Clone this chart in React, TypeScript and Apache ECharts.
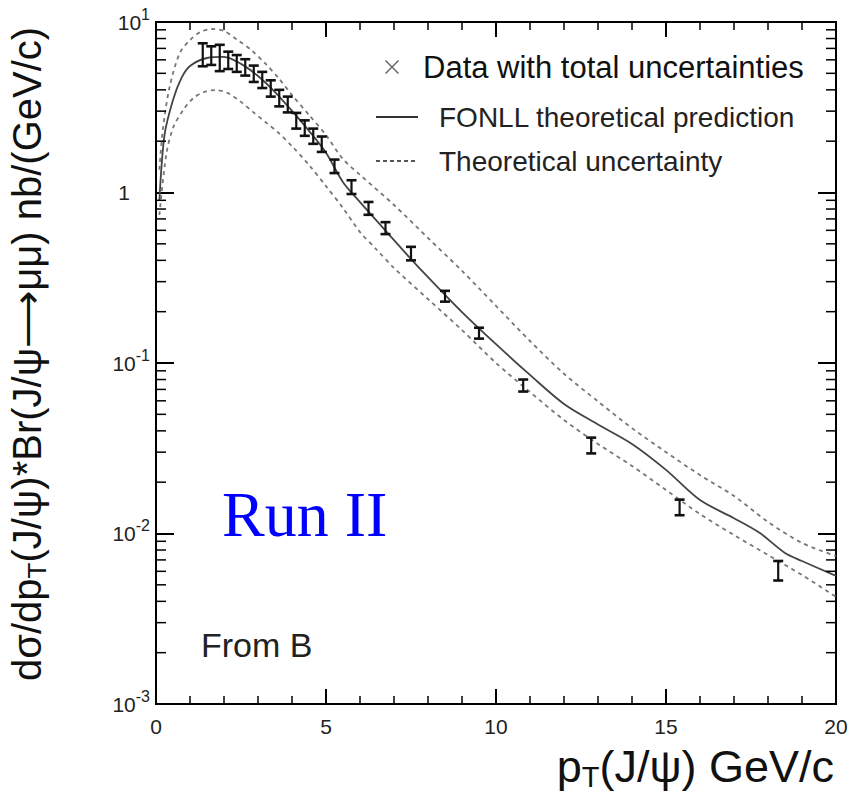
import React, { useEffect, useRef } from "react";
import * as echarts from "echarts";

const SANS = '"Liberation Sans", Arial, sans-serif';
const SERIF = '"Liberation Serif", "Times New Roman", serif';

// Measured data: pT bin centres (GeV/c), cross section (nb/(GeV/c)), total uncertainty
const dataPt = [1.375, 1.625, 1.875, 2.125, 2.375, 2.625, 2.875, 3.125, 3.375, 3.625, 3.875, 4.125, 4.375, 4.625, 4.875, 5.25, 5.75, 6.25, 6.75, 7.5, 8.5, 9.5, 10.8, 12.8, 15.4, 18.3];
const dataXsec = [6.5, 6.4, 6.25, 6.0, 5.75, 5.45, 5.0, 4.6, 4.1, 3.6, 3.3, 2.65, 2.4, 2.15, 1.93, 1.43, 1.08, 0.81, 0.62, 0.44, 0.247, 0.15, 0.074, 0.033, 0.0143, 0.0061];
const dataErr = [1.0, 0.8, 1.1, 0.7, 0.65, 0.6, 0.55, 0.5, 0.45, 0.4, 0.35, 0.28, 0.25, 0.22, 0.2, 0.13, 0.1, 0.07, 0.05, 0.04, 0.018, 0.011, 0.006, 0.0035, 0.0015, 0.0008];

// FONLL central prediction
const fonllPt = [0.1, 0.25, 0.5, 0.75, 1, 1.5, 2, 2.5, 3, 3.5, 4, 4.5, 5, 5.5, 6, 6.5, 7, 7.5, 8, 9, 10, 11, 12, 13, 14, 15, 16, 17, 17.75, 18.5, 19, 20];
const fonllXsec = [0.9, 2.17, 3.49, 4.7, 5.52, 6.15, 6.24, 5.68, 4.82, 3.88, 3.01, 2.3, 1.71, 1.15, 0.879, 0.68, 0.526, 0.407, 0.319, 0.199, 0.129, 0.0851, 0.0575, 0.0436, 0.0335, 0.0236, 0.0157, 0.0123, 0.0101, 0.00769, 0.0069, 0.00564];

// Theoretical uncertainty band, upper edge
const upperPt = [0.1, 0.2, 0.4, 0.7, 1, 1.3, 1.65, 2, 2.4, 2.8, 3.2, 3.6, 4, 4.5, 5, 5.5, 6, 7, 8, 9, 10, 11, 12, 13, 14, 15, 16, 17, 18, 19, 20];
const upperXsec = [1.36, 2.33, 4.16, 6.58, 7.83, 8.73, 9.1, 8.85, 7.84, 6.85, 5.75, 4.7, 3.73, 2.85, 2.17, 1.57, 1.27, 0.845, 0.541, 0.347, 0.216, 0.1346, 0.0865, 0.0595, 0.0415, 0.0300, 0.0220, 0.0166, 0.0117, 0.0088, 0.00738];

// Theoretical uncertainty band, lower edge
const lowerPt = [0.1, 0.3, 0.5, 0.8, 1.1, 1.4, 1.75, 2.1, 2.5, 2.85, 3.25, 3.6, 4, 4.5, 5, 5.5, 6, 6.5, 7, 8, 9, 10, 11, 12, 13, 14, 15, 16, 17, 18, 19, 20];
const lowerXsec = [0.738, 1.66, 2.39, 3.05, 3.58, 3.88, 3.99, 3.84, 3.4, 2.97, 2.56, 2.24, 1.87, 1.45, 1.09, 0.811, 0.586, 0.46, 0.361, 0.237, 0.156, 0.1, 0.0676, 0.0463, 0.0335, 0.0249, 0.018, 0.013, 0.00979, 0.00748, 0.00571, 0.00425];

// Axis settings
const xMin = 0;
const xMax = 20;
const xInterval = 5;
const yMin = 0.001;
const yMax = 10;
const yMinorMantissas = [2, 3, 4, 5, 6, 7, 8, 9];
const yDecades = [-3, -2, -1, 0];

const legendData = "Data with total uncertainties";
const legendFonll = "FONLL theoretical prediction";
const legendBand = "Theoretical uncertainty";

function textWidth(text: string, size: number, family: string): number {
  const c = document.createElement("canvas").getContext("2d");
  if (!c) return text.length * size * 0.55;
  c.font = `${size}px ${family}`;
  return c.measureText(text).width;
}

function mkText(text: string, x: number, y: number, size: number, color: string, family = SANS) {
  return {
    type: "text",
    x,
    y,
    silent: true,
    style: {
      text,
      fontSize: size,
      fontFamily: family,
      fill: color,
      align: "left",
      textAlign: "left",
      verticalAlign: "middle",
      textVerticalAlign: "middle",
    },
  };
}

function pieces(parts: { t: string; fs: number; dy: number }[], x0: number, y0: number, color: string) {
  const out: any[] = [];
  let x = x0;
  for (const p of parts) {
    out.push(mkText(p.t, x, y0 + p.dy, p.fs, color));
    x += textWidth(p.t, p.fs, SANS);
  }
  return { out, width: x - x0 };
}

const crossIcon =
  "path://M9,2 L10,1 L16,7 L22,1 L23,2 L17,8 L23,14 L22,15 L16,9 L10,15 L9,14 L15,8 Z M0,0 L0.01,0 L0,0.01 Z M42,16 L41.99,16 L42,15.99 Z";
const solidIcon = "path://M0,0 L42,0 L42,2 L0,2 Z";
const dashIcon =
  "path://M0,0h4v2h-4z M7,0h4v2h-4z M14,0h4v2h-4z M21,0h4v2h-4z M28,0h4v2h-4z M35,0h4v2h-4z M41.99,0h0.01v2h-0.01z";

export default function App() {
  const ref = useRef<HTMLDivElement>(null);
  useEffect(() => {
    if (!ref.current) return;
    const chart = echarts.init(ref.current, null, { renderer: "svg" });

    const minorTicks: number[][] = [];
    for (const d of yDecades) for (const m of yMinorMantissas) minorTicks.push([0, m * Math.pow(10, d)]);

    // x-axis title
    const xParts = [
      { t: "p", fs: 45, dy: 0 },
      { t: "T", fs: 29, dy: 11 },
      { t: "(J/ψ) GeV/c", fs: 45, dy: 0 },
    ];
    const xw = pieces(xParts, 0, 0, "#111").width;
    const xTitle = pieces(xParts, 834 - xw, 766, "#111").out;

    // y-axis title (rotated)
    const yParts = [
      { t: "dσ/dp", fs: 40, dy: 0 },
      { t: "T", fs: 26, dy: 10 },
      { t: "(J/ψ)*Br(J/ψ⟶μμ) nb/(GeV/c)", fs: 40, dy: 0 },
    ];
    const yTitle = pieces(yParts, 0, 0, "#111").out;

    const axisLabelY = {
      fontFamily: SANS,
      color: "#222",
      margin: 6,
      formatter: (v: number) => {
        const e = Math.round(Math.log10(v));
        if (e === 0) return "{one|1}";
        return `{b|10}{s|${e}}`;
      },
      rich: {
        b: { fontSize: 21, fontFamily: SANS, color: "#222" },
        s: { fontSize: 16, fontFamily: SANS, color: "#222", padding: [0, 0, 16, 0] },
        one: { fontSize: 21, fontFamily: SANS, color: "#222", padding: [0, 20, 0, 0] },
      },
    };

    const option: any = {
      animation: false,
      backgroundColor: "#fff",
      grid: { left: 156, right: 25, top: 22, bottom: 91, show: true, borderColor: "#000", borderWidth: 2, backgroundColor: "transparent" },
      legend: {
        orient: "vertical",
        left: 376,
        top: 39,
        padding: 0,
        itemWidth: 42,
        itemHeight: 16,
        itemGap: 0,
        selectedMode: false,
        data: [
          {
            name: legendData,
            icon: crossIcon,
            itemStyle: { color: "#666" },
            textStyle: { fontSize: 31, fontFamily: SANS, color: "#111", lineHeight: 56 },
          },
          {
            name: legendFonll,
            icon: solidIcon,
            itemStyle: { color: "#333" },
            textStyle: { fontSize: 28, fontFamily: SANS, color: "#222", lineHeight: 44, padding: [0, 0, 0, 16] },
          },
          {
            name: legendBand,
            icon: dashIcon,
            itemStyle: { color: "#555" },
            textStyle: { fontSize: 28, fontFamily: SANS, color: "#222", lineHeight: 44, padding: [0, 0, 0, 16] },
          },
        ],
      },
      xAxis: [
        {
          type: "value",
          min: xMin,
          max: xMax,
          interval: xInterval,
          position: "bottom",
          axisLine: { show: true, onZero: false, lineStyle: { color: "#000", width: 2 } },
          axisTick: { show: true, inside: true, length: 15, lineStyle: { color: "#000", width: 2 } },
          minorTick: { show: true, splitNumber: 5, length: 8, lineStyle: { color: "#000", width: 1.5 } },
          splitLine: { show: false },
          axisLabel: { fontSize: 21, fontFamily: SANS, color: "#222", margin: 12 },
        },
        {
          type: "value",
          min: xMin,
          max: xMax,
          interval: xInterval,
          position: "top",
          axisLine: { show: true, onZero: false, lineStyle: { color: "#000", width: 2 } },
          axisTick: { show: true, inside: true, length: 15, lineStyle: { color: "#000", width: 2 } },
          minorTick: { show: true, splitNumber: 5, length: 8, lineStyle: { color: "#000", width: 1.5 } },
          splitLine: { show: false },
          axisLabel: { show: false },
        },
      ],
      yAxis: [
        {
          type: "log",
          logBase: 10,
          min: yMin,
          max: yMax,
          position: "left",
          axisLine: { show: true, onZero: false, lineStyle: { color: "#000", width: 2 } },
          axisTick: { show: true, inside: true, length: 18, lineStyle: { color: "#000", width: 2 } },
          splitLine: { show: false },
          axisLabel: axisLabelY,
        },
        {
          type: "log",
          logBase: 10,
          min: yMin,
          max: yMax,
          position: "right",
          axisLine: { show: true, onZero: false, lineStyle: { color: "#000", width: 2 } },
          axisTick: { show: true, inside: true, length: 18, lineStyle: { color: "#000", width: 2 } },
          splitLine: { show: false },
          axisLabel: { show: false },
        },
      ],
      series: [
        {
          name: "minorTicks",
          type: "custom",
          silent: true,
          clip: false,
          xAxisIndex: 0,
          yAxisIndex: 0,
          data: minorTicks,
          encode: { x: 0, y: 1 },
          renderItem: (params: any, api: any) => {
            const p = api.coord([0, api.value(1)]);
            const cs = params.coordSys;
            const L = cs.x;
            const R = cs.x + cs.width;
            return {
              type: "group",
              children: [
                { type: "line", shape: { x1: L, y1: p[1], x2: L + 10, y2: p[1] }, style: { stroke: "#000", lineWidth: 1.5 } },
                { type: "line", shape: { x1: R - 10, y1: p[1], x2: R, y2: p[1] }, style: { stroke: "#000", lineWidth: 1.5 } },
              ],
            };
          },
          z: 5,
        },
        {
          name: legendBand,
          type: "line",
          data: upperPt.map((x, i) => [x, upperXsec[i]]),
          showSymbol: false,
          symbol: "none",
          smooth: 0.3,
          lineStyle: { color: "#777", width: 1.8, type: [4, 4] },
          itemStyle: { color: "#777" },
          z: 2,
        },
        {
          name: legendBand,
          type: "line",
          data: lowerPt.map((x, i) => [x, lowerXsec[i]]),
          showSymbol: false,
          symbol: "none",
          smooth: 0.3,
          lineStyle: { color: "#777", width: 1.8, type: [4, 4] },
          itemStyle: { color: "#777" },
          z: 2,
        },
        {
          name: legendFonll,
          type: "line",
          data: fonllPt.map((x, i) => [x, fonllXsec[i]]),
          showSymbol: false,
          symbol: "none",
          smooth: 0.3,
          lineStyle: { color: "#444", width: 1.8 },
          itemStyle: { color: "#444" },
          z: 3,
        },
        {
          name: legendData,
          type: "custom",
          data: dataPt.map((x, i) => [x, dataXsec[i], dataErr[i]]),
          encode: { x: 0, y: 1 },
          itemStyle: { color: "#666" },
          renderItem: (_params: any, api: any) => {
            const x = api.value(0);
            const y = api.value(1);
            const e = api.value(2);
            const top = api.coord([x, y + e]);
            const bot = api.coord([x, y - e]);
            const w = 5;
            const st = { stroke: "#111", lineWidth: 2.2 };
            return {
              type: "group",
              children: [
                { type: "line", shape: { x1: top[0], y1: top[1], x2: bot[0], y2: bot[1] }, style: st },
                { type: "line", shape: { x1: top[0] - w, y1: top[1], x2: top[0] + w, y2: top[1] }, style: { stroke: "#111", lineWidth: 2.6 } },
                { type: "line", shape: { x1: bot[0] - w, y1: bot[1], x2: bot[0] + w, y2: bot[1] }, style: { stroke: "#111", lineWidth: 2.6 } },
              ],
            };
          },
          z: 4,
        },
      ],
      graphic: [
        ...xTitle,
        {
          type: "group",
          x: 27,
          y: 681,
          rotation: Math.PI / 2,
          children: yTitle,
        },
        mkText("Run II", 222, 514, 64, "#0000ff", SERIF),
        mkText("From B", 201, 645, 34, "#222"),
      ],
    };

    chart.setOption(option);
    return () => chart.dispose();
  }, []);

  return (
    <div
      ref={ref}
      style={{ position: "absolute", left: 0, top: 0, width: 861, height: 795, background: "#fff" }}
    />
  );
}
